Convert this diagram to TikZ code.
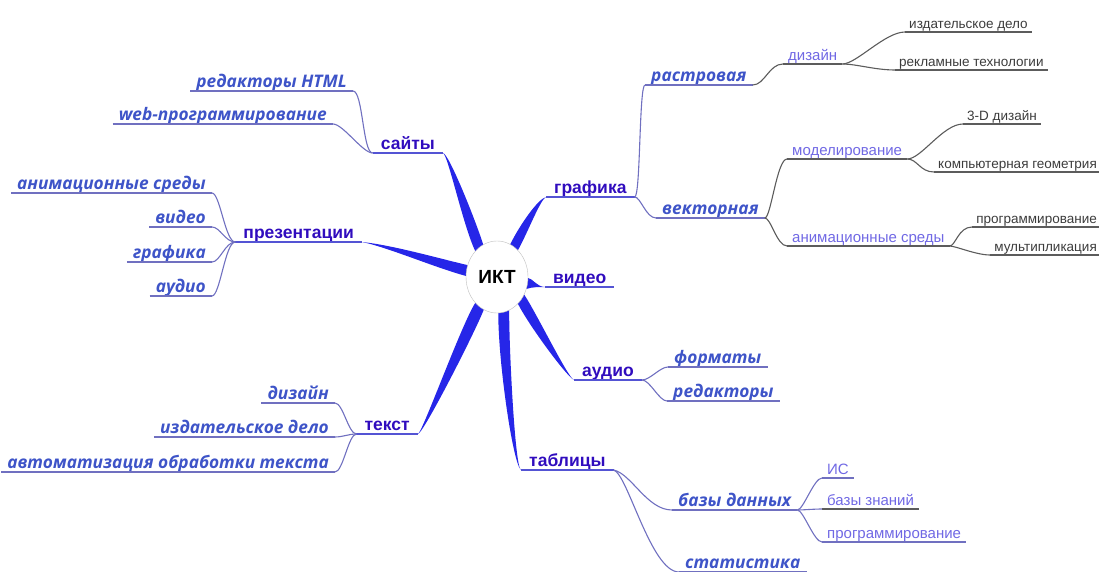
\documentclass[tikz,border=0pt]{standalone}
\usepackage{fontspec}
\setmainfont{Liberation Sans}
\newfontfamily\subfont{Open Sans}
\usetikzlibrary{shapes.geometric,backgrounds}

\definecolor{branchblue}{RGB}{38,38,232}
\definecolor{maintext}{RGB}{48,12,190}
\definecolor{subtext}{RGB}{62,84,200}
\definecolor{thirdtext}{RGB}{112,104,228}
\definecolor{fourthtext}{RGB}{60,60,60}
\definecolor{mainline}{RGB}{84,84,212}
\definecolor{subline}{RGB}{112,112,192}
\definecolor{darkline}{RGB}{92,92,92}

\begin{document}
\begin{tikzpicture}[x=1pt, y=-1pt,
  main/.style={font=\fontsize{17.5}{20}\selectfont\bfseries, text=maintext, inner xsep=8pt, inner ysep=3pt, text depth=0pt},
  sub/.style={font=\subfont\fontsize{17.3}{20}\selectfont\bfseries\itshape, text=subtext, inner xsep=6pt, inner ysep=3pt, text depth=0pt},
  third/.style={font=\fontsize{15}{18}\selectfont, text=thirdtext, inner xsep=5pt, inner ysep=3pt, text depth=0pt},
  fourth/.style={font=\fontsize{13.5}{16}\selectfont, text=fourthtext, inner xsep=4pt, inner ysep=3pt, text depth=0pt},
  branch/.style={fill=branchblue},
  twig/.style={draw=subline, line width=1.1pt},
  stem/.style={draw=darkline, line width=1.1pt}]

  \useasboundingbox (0,0) rectangle (1099,572);

  \node[ellipse, draw=gray!50, fill=white, minimum width=62pt, minimum height=72pt, inner sep=0pt,
        font=\fontsize{19}{22}\selectfont\bfseries] (ikt) at (497,277) {ИКТ};

  % main branches
  \node[main, anchor=south east] (saity) at (443,153) {сайты};
  \node[main, anchor=south east] (prez) at (362,242) {презентации};
  \node[main, anchor=south west] (graf) at (546,197) {графика};
  \node[main, anchor=south west] (video) at (545,287) {видео};
  \node[main, anchor=south west] (audio) at (574,380) {аудио};
  \node[main, anchor=south west] (tabl) at (521,470) {таблицы};
  \node[main, anchor=south east] (tekst) at (418,434) {текст};

  % second level
  \node[sub, anchor=south east] (html) at (353,91) {редакторы HTML};
  \node[sub, anchor=south east] (web) at (333,124) {web-программирование};
  \node[sub, anchor=south east] (panim) at (212,193) {анимационные среды};
  \node[sub, anchor=south east] (pvideo) at (212,227) {видео};
  \node[sub, anchor=south east] (pgraf) at (212,262) {графика};
  \node[sub, anchor=south east] (paudio) at (212,296) {аудио};
  \node[sub, anchor=south west] (rastr) at (645,85) {растровая};
  \node[sub, anchor=south west] (vektor) at (656,218) {векторная};
  \node[sub, anchor=south west] (form) at (668,367) {форматы};
  \node[sub, anchor=south west] (red) at (667,401) {редакторы};
  \node[sub, anchor=south west] (bd) at (672,510) {базы данных};
  \node[sub, anchor=south west] (stat) at (679,572) {статистика};
  \node[sub, anchor=south east] (tdiz) at (335,403) {дизайн};
  \node[sub, anchor=south east] (tizd) at (335,437) {издательское дело};
  \node[sub, anchor=south east] (tauto) at (335,472) {автоматизация обработки текста};

  % third level
  \node[third, anchor=south west] (diz) at (783,64) {дизайн};
  \node[third, anchor=south west] (model) at (787,159) {моделирование};
  \node[third, anchor=south west] (anims) at (787,246) {анимационные среды};
  \node[third, anchor=south west] (is) at (822,478) {ИС};
  \node[third, anchor=south west] (bz) at (822,509) {базы знаний};
  \node[third, anchor=south west] (bprog) at (822,542) {программирование};

  % fourth level
  \node[fourth, anchor=south west] (izd) at (905,32) {издательское дело};
  \node[fourth, anchor=south west] (rekl) at (895,70) {рекламные технологии};
  \node[fourth, anchor=south west] (threed) at (963,124) {3-D дизайн};
  \node[fourth, anchor=south east] (compg) at (1101,172) {компьютерная геометрия};
  \node[fourth, anchor=south east] (prog) at (1101,227) {программирование};
  \node[fourth, anchor=south east] (mult) at (1101,255) {мультипликация};

  % thick branches from the centre
  \begin{scope}[on background layer]
    \fill[branch] (saity.south east) .. controls +(6,1) and +(-8,-25) .. (ikt.113) -- (ikt.center)
      -- (ikt.130) .. controls +(-12,-25) and +(5,2) .. (saity.south east);
    \fill[branch] (prez.south east) .. controls +(30,3) and +(-30,-7) .. (ikt.158) -- (ikt.center)
      -- (ikt.178) .. controls +(-30,-8) and +(25,5) .. (prez.south east);
    \fill[branch] (graf.south west) .. controls +(-8,2) and +(10,-20) .. (ikt.68) -- (ikt.center)
      -- (ikt.52) .. controls +(10,-18) and +(-6,3) .. (graf.south west);
    \fill[branch] (video.south west) .. controls +(-8,0) and +(4,0) .. (ikt.-2) -- (ikt.center)
      -- (ikt.-22) .. controls +(6,-2) and +(-6,0) .. (video.south west);
    \fill[branch] (audio.south west) .. controls +(-6,-2) and +(12,18) .. (ikt.-33) -- (ikt.center)
      -- (ikt.-52) .. controls +(10,20) and +(-8,-4) .. (audio.south west);
    \fill[branch] (tabl.south west) .. controls +(-6,-2) and +(0,40) .. (ikt.-70) -- (ikt.center)
      -- (ikt.-88) .. controls +(0,50) and +(-8,-6) .. (tabl.south west);
    \fill[branch] (tekst.south east) .. controls +(6,-2) and +(-10,25) .. (ikt.-112) -- (ikt.center)
      -- (ikt.-130) .. controls +(-14,22) and +(5,-3) .. (tekst.south east);
  \end{scope}

  % underlines
  \foreach \n in {saity,prez,graf,video,audio,tabl,tekst}
    \draw[mainline, line width=1.1pt] (\n.south west) -- (\n.south east);
  \foreach \n in {html,web,panim,pvideo,pgraf,paudio,rastr,vektor,form,red,bd,stat,tdiz,tizd,tauto,is,bprog}
    \draw[twig] (\n.south west) -- (\n.south east);
  \foreach \n in {diz,model,anims,bz,izd,rekl,threed,compg,prog,mult}
    \draw[stem] (\n.south west) -- (\n.south east);

  % connectors
  \draw[twig] (saity.south west) .. controls +(-10,0) and +(10,0) .. (html.south east);
  \draw[twig] (saity.south west) .. controls +(-10,0) and +(10,0) .. (web.south east);
  \foreach \n in {panim,pvideo,pgraf,paudio}
    \draw[twig] (prez.south west) .. controls +(-10,0) and +(8,0) .. (\n.south east);
  \draw[twig] (graf.south east) .. controls +(6,0) and +(-6,0) .. (rastr.south west);
  \draw[twig] (graf.south east) .. controls +(6,0) and +(-10,0) .. (vektor.south west);
  \draw[stem] (rastr.south east) .. controls +(12,0) and +(-14,0) .. (diz.south west);
  \draw[stem] (diz.south east) .. controls +(14,0) and +(-20,0) .. (izd.south west);
  \draw[stem] (diz.south east) .. controls +(14,0) and +(-20,0) .. (rekl.south west);
  \draw[stem] (vektor.south east) .. controls +(6,0) and +(-10,0) .. (model.south west);
  \draw[stem] (vektor.south east) .. controls +(6,0) and +(-10,0) .. (anims.south west);
  \draw[stem] (model.south east) .. controls +(14,0) and +(-20,0) .. (threed.south west);
  \draw[stem] (model.south east) .. controls +(10,0) and +(-14,0) .. (compg.south west);
  \draw[stem] (anims.south east) .. controls +(6,0) and +(-14,0) .. (prog.south west);
  \draw[stem] (anims.south east) .. controls +(6,0) and +(-14,0) .. (mult.south west);
  \draw[twig] (audio.south east) .. controls +(8,0) and +(-8,0) .. (form.south west);
  \draw[twig] (audio.south east) .. controls +(8,0) and +(-8,0) .. (red.south west);
  \draw[twig] (tabl.south east) .. controls +(18,4) and +(-25,0) .. (bd.south west);
  \draw[twig] (tabl.south east) .. controls +(14,4) and +(-28,0) .. (stat.south west);
  \foreach \n in {is,bz,bprog}
    \draw[twig] (bd.south east) .. controls +(6,0) and +(-8,0) .. (\n.south west);
  \foreach \n in {tdiz,tizd,tauto}
    \draw[twig] (tekst.south west) .. controls +(-8,0) and +(8,0) .. (\n.south east);

\end{tikzpicture}
\end{document}
